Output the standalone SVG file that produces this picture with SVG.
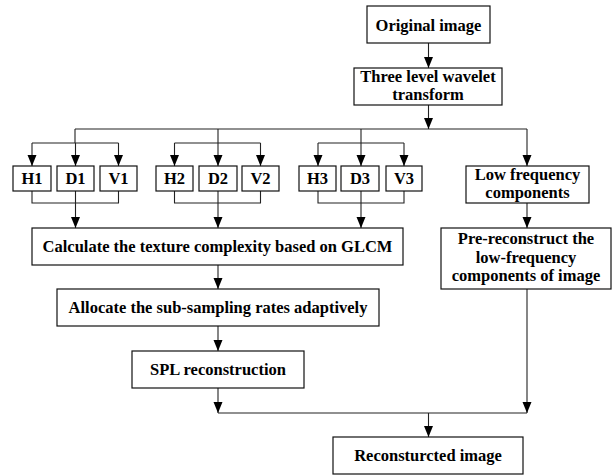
<svg xmlns="http://www.w3.org/2000/svg" width="612" height="475" viewBox="0 0 612 475">
<style>
.box{fill:#fff;stroke:#111;stroke-width:1.2}
.t{font-family:"Liberation Serif","Times New Roman",serif;font-weight:bold;font-size:16.5px;fill:#000;text-anchor:middle}
.c{fill:none;stroke:#222;stroke-width:1.1}
.a{marker-end:url(#arr)}
</style>
<defs>
<marker id="arr" markerUnits="userSpaceOnUse" markerWidth="11" markerHeight="10" refX="11" refY="4.5" orient="auto">
<path d="M0,0 L11,4.5 L0,9 z" fill="#000"/>
</marker>
</defs>
<rect width="612" height="475" fill="#fff"/>
<g id="connectors">
<path class="c a" d="M428.5,43 V68"/>
<path class="c a" d="M428.5,105 V129"/>
<path class="c" d="M75,129 H527"/>
<path class="c" d="M75,129 V143 M218,129 V143 M361,129 V143"/>
<path class="c" d="M32,143 H118.5 M174.5,143 H260.5 M318,143 H404"/>
<path class="c a" d="M32,143 V166"/>
<path class="c a" d="M75.5,143 V166"/>
<path class="c a" d="M118.5,143 V166"/>
<path class="c a" d="M174.5,143 V166"/>
<path class="c a" d="M218,143 V166"/>
<path class="c a" d="M260.5,143 V166"/>
<path class="c a" d="M318,143 V166"/>
<path class="c a" d="M361,143 V166"/>
<path class="c a" d="M404,143 V166"/>
<path class="c a" d="M527,129 V166"/>
<path class="c" d="M32,191 V203 H118.5 V191 M75.5,191 V203"/>
<path class="c" d="M174.5,191 V203 H260.5 V191 M218,191 V203"/>
<path class="c" d="M318,191 V203 H404 V191 M361,191 V203"/>
<path class="c a" d="M75.5,203 V228"/>
<path class="c a" d="M218,203 V228"/>
<path class="c a" d="M361,203 V228"/>
<path class="c a" d="M527,203 V228"/>
<path class="c a" d="M218,265 V289"/>
<path class="c a" d="M218,326 V351"/>
<path class="c a" d="M218,388 V413"/>
<path class="c a" d="M527,289 V413"/>
<path class="c" d="M218,413 H527"/>
<path class="c a" d="M428.5,413 V437"/>
</g>
<g id="original"><rect class="box" x="367" y="6" width="123" height="37"/><text class="t" x="428.5" y="31">Original image</text></g>
<g id="wavelet"><rect class="box" x="354" y="68" width="148" height="37"/><text class="t" x="428" y="82">Three level wavelet</text><text class="t" x="428" y="100">transform</text></g>
<g id="H1"><rect class="box" x="13" y="166" width="38" height="25"/><text class="t" x="32" y="184">H1</text></g>
<g id="D1"><rect class="box" x="57" y="166" width="37" height="25"/><text class="t" x="75.5" y="184">D1</text></g>
<g id="V1"><rect class="box" x="100" y="166" width="37" height="25"/><text class="t" x="118.5" y="184">V1</text></g>
<g id="H2"><rect class="box" x="156" y="166" width="37" height="25"/><text class="t" x="174.5" y="184">H2</text></g>
<g id="D2"><rect class="box" x="199" y="166" width="38" height="25"/><text class="t" x="218" y="184">D2</text></g>
<g id="V2"><rect class="box" x="242" y="166" width="37" height="25"/><text class="t" x="260.5" y="184">V2</text></g>
<g id="H3"><rect class="box" x="299" y="166" width="37" height="25"/><text class="t" x="317.5" y="184">H3</text></g>
<g id="D3"><rect class="box" x="341" y="166" width="38" height="25"/><text class="t" x="360" y="184">D3</text></g>
<g id="V3"><rect class="box" x="386" y="166" width="36" height="25"/><text class="t" x="404" y="184">V3</text></g>
<g id="lowfreq"><rect class="box" x="466" y="166" width="123" height="37"/><text class="t" x="527.5" y="179.5">Low frequency</text><text class="t" x="527.5" y="197.5">components</text></g>
<g id="glcm"><rect class="box" x="32" y="228" width="371" height="37"/><text class="t" x="217.5" y="252">Calculate the texture complexity based on GLCM</text></g>
<g id="prerec"><rect class="box" x="441" y="228" width="170" height="61"/><text class="t" x="526" y="244">Pre-reconstruct the</text><text class="t" x="526" y="262.5">low-frequency</text><text class="t" x="526" y="281">components of image</text></g>
<g id="allocate"><rect class="box" x="57" y="289" width="322" height="37"/><text class="t" x="218" y="313">Allocate the sub-sampling rates adaptively</text></g>
<g id="spl"><rect class="box" x="132" y="351" width="172" height="37"/><text class="t" x="218" y="375">SPL reconstruction</text></g>
<g id="recon"><rect class="box" x="333" y="437" width="190" height="37"/><text class="t" x="428" y="461">Reconsturcted image</text></g>
</svg>
